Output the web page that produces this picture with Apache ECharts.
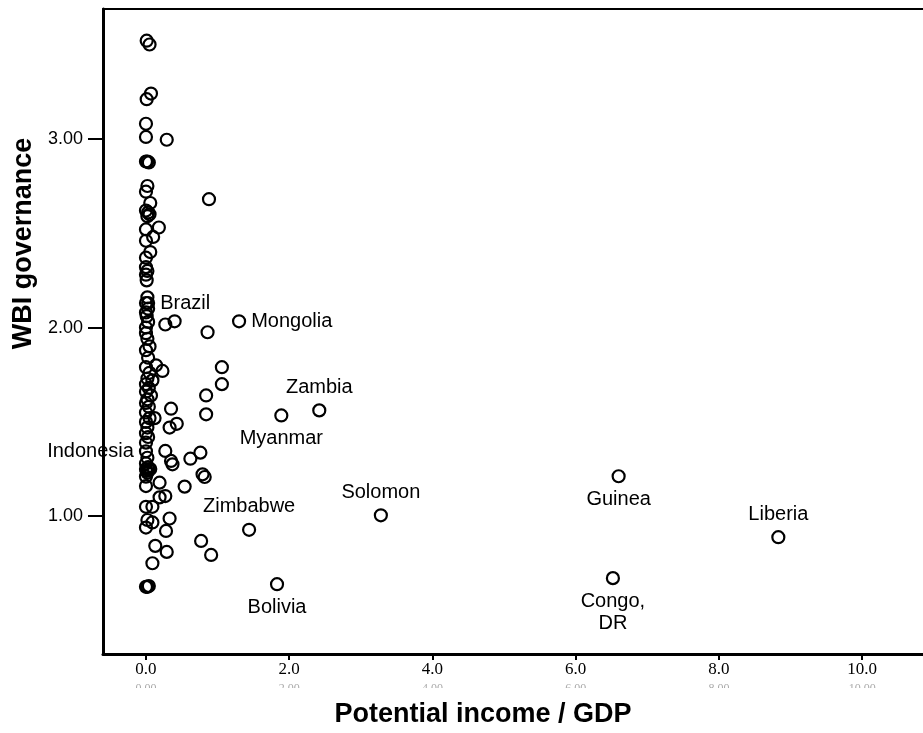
<!DOCTYPE html>
<html>
<head>
<meta charset="utf-8">
<script src="https://cdn.jsdelivr.net/npm/echarts@6/dist/echarts.min.js"></script>
<style>
  html, body { margin: 0; padding: 0; background: #fff; }
  #chart { width: 923px; height: 733px; }
</style>
</head>
<body>
<div id="chart"></div>
<script>
// Unlabelled countries: potential income as share of GDP, and WBI governance score
const incomeRatio = [
  0.01, 0.05, 0.07, 0.01, 0.00, 0.00, 0.29,
  0.00, 0.02, 0.04, 0.02, 0.00, 0.06, 0.00, 0.03, 0.05, 0.02,
  0.88, 0.18, 0.00, 0.10, 0.00, 0.06, 0.00, 0.00, 0.02, 0.00, 0.01,
  0.02, 0.00, 0.03, 0.00, 0.01, 0.03, 0.00,
  0.27, 0.40, 0.86,
  0.00, 0.02, 0.05, 0.00, 0.03, 0.14, 0.23, 0.00, 0.05, 0.02, 0.09, 0.00, 0.04, 0.00, 0.07, 0.02, 0.00, 0.04,
  1.06, 1.06, 0.84, 0.84,
  0.35, 0.12, 0.33, 0.43,
  0.00, 0.05, 0.00, 0.02, 0.00, 0.03, 0.00,
  0.27, 0.35, 0.37, 0.62, 0.76, 0.79, 0.82, 0.54, 0.19,
  0.02, 0.00, 0.03, 0.00, 0.01, 0.04, 0.06, 0.02, 0.00,
  0.00, 0.19, 0.27, 0.00, 0.09, 0.33, 0.02, 0.09, 0.00, 0.28,
  0.77, 0.91, 0.13, 0.29, 0.09, 0.00, 0.02, 0.04
];
const governance = [
  3.52, 3.50, 3.24, 3.21, 3.08, 3.01, 2.995,
  2.88, 2.88, 2.875, 2.75, 2.72, 2.66, 2.62, 2.61, 2.60, 2.59,
  2.68, 2.53, 2.52, 2.48, 2.46, 2.40, 2.37, 2.32, 2.30, 2.28, 2.25,
  2.16, 2.13, 2.10, 2.08, 2.06, 2.03, 2.00,
  2.016, 2.033, 1.975,
  1.97, 1.94, 1.90, 1.88, 1.84, 1.80, 1.77, 1.79, 1.76, 1.73, 1.72, 1.70, 1.68, 1.66, 1.64, 1.62, 1.60, 1.58,
  1.79, 1.70, 1.64, 1.54,
  1.57, 1.52, 1.47, 1.49,
  1.55, 1.52, 1.50, 1.47, 1.44, 1.42, 1.39,
  1.346, 1.293, 1.275, 1.305, 1.337, 1.222, 1.208, 1.157, 1.178,
  1.31, 1.28, 1.26, 1.25, 1.24, 1.245, 1.25, 1.23, 1.21,
  1.16, 1.10, 1.107, 1.05, 1.05, 0.988, 0.98, 0.967, 0.94, 0.922,
  0.869, 0.795, 0.843, 0.811, 0.751, 0.626, 0.626, 0.63
];

// Named countries
const countryNames = ['Brazil', 'Indonesia', 'Mongolia', 'Zambia', 'Myanmar', 'Zimbabwe',
  'Solomon', 'Guinea', 'Liberia', 'Bolivia', 'Congo,\nDR'];
const countryIncome = [0.03, 0.00, 1.30, 2.42, 1.89, 1.44, 3.28, 6.60, 8.83, 1.83, 6.52];
const countryGov = [2.13, 1.344, 2.033, 1.561, 1.534, 0.928, 1.005, 1.212, 0.889, 0.640, 0.672];

// Axis ticks
const xTicks = [0, 2, 4, 6, 8, 10];
const yTicks = [1, 2, 3];

// Label placement for each named country
const labelPlacement = {
  'Brazil':     { position: 'right',  offset: [0, 0] },
  'Indonesia':  { position: 'left',   offset: [11, 0] },
  'Mongolia':   { position: 'right',  offset: [7, 10] },
  'Zambia':     { position: 'top',    offset: [18, 0] },
  'Myanmar':    { position: 'bottom', offset: [2, -5] },
  'Zimbabwe':   { position: 'top',    offset: [16, -3] },
  'Solomon':    { position: 'top',    offset: [4, -4] },
  'Guinea':     { position: 'bottom', offset: [0, 0] },
  'Liberia':    { position: 'top',    offset: [4, -10] },
  'Bolivia':    { position: 'bottom', offset: [13, -3] },
  'Congo,\nDR': { position: 'bottom', offset: [1, -2] }
};

const plainPoints = incomeRatio.map((x, i) => [x, governance[i]]);
const namedPoints = countryNames.map((n, i) => ({
  name: n,
  value: [countryIncome[i], countryGov[i]],
  label: labelPlacement[n]
}));

const markerStyle = {
  color: 'rgba(0,0,0,0)',
  borderColor: '#000',
  borderWidth: 2.2,
  opacity: 1
};

const chart = echarts.init(document.getElementById('chart'), null, { renderer: 'canvas' });

const xMin = -0.60, xMax = 10.85;

chart.setOption({
  animation: false,
  backgroundColor: '#fff',
  grid: { left: 103, top: 9, right: 0, bottom: 78 },
  xAxis: [
    {
      type: 'value', min: xMin, max: xMax,
      name: 'Potential income / GDP',
      nameLocation: 'middle', nameGap: 47,
      nameTextStyle: {
        fontFamily: 'Liberation Sans, Arial', fontWeight: 'bold', fontSize: 27, color: '#000',
        padding: [0, 60, 0, 0]
      },
      axisLine: { show: true, onZero: false, lineStyle: { color: '#000', width: 3 } },
      axisTick: { show: true, customValues: xTicks, length: 6, lineStyle: { color: '#000', width: 2 } },
      axisLabel: {
        customValues: xTicks, margin: 7,
        formatter: v => v.toFixed(1),
        fontFamily: 'Liberation Serif, Times New Roman', fontSize: 17, color: '#000'
      },
      splitLine: { show: false }
    },
    {
      // faint secondary tick labels below the main ones
      type: 'value', min: xMin, max: xMax, position: 'bottom', offset: 21,
      axisLine: { show: false }, axisTick: { show: false },
      axisLabel: {
        customValues: xTicks,
        formatter: v => v.toFixed(2),
        fontFamily: 'Liberation Serif, Times New Roman', fontSize: 12, color: '#aaaaaa'
      },
      splitLine: { show: false }
    },
    {
      // top frame line
      type: 'value', min: xMin, max: xMax, position: 'top',
      axisLine: { show: true, onZero: false, lineStyle: { color: '#000', width: 2 } },
      axisTick: { show: false }, axisLabel: { show: false }, splitLine: { show: false }
    }
  ],
  yAxis: {
    type: 'value', min: 0.27, max: 3.688,
    name: 'WBI governance',
    nameLocation: 'middle', nameGap: 57, nameRotate: 90,
    nameTextStyle: {
      fontFamily: 'Liberation Sans, Arial', fontWeight: 'bold', fontSize: 27, color: '#000',
      padding: [0, 0, 0, 176]
    },
    axisLine: { show: true, onZero: false, lineStyle: { color: '#000', width: 3 } },
    axisTick: { show: true, customValues: yTicks, length: 15, lineStyle: { color: '#000', width: 2 } },
    axisLabel: {
      customValues: yTicks, margin: 20,
      formatter: v => v.toFixed(2),
      fontFamily: 'Liberation Sans, Arial', fontSize: 18, color: '#000'
    },
    splitLine: { show: false }
  },
  series: [
    {
      type: 'scatter', symbol: 'circle', symbolSize: 12,
      data: plainPoints, itemStyle: markerStyle, z: 3
    },
    {
      type: 'scatter', symbol: 'circle', symbolSize: 12,
      data: namedPoints, itemStyle: markerStyle, z: 3,
      label: {
        show: true, formatter: p => p.name,
        fontFamily: 'Liberation Sans, Arial', fontSize: 20, color: '#000',
        lineHeight: 22, textBorderWidth: 0
      },
      labelLayout: { hideOverlap: false }
    }
  ],
  graphic: [
    // the lower half of the faint secondary tick labels is cut away
    { type: 'rect', shape: { x: 100, y: 688, width: 823, height: 12 }, style: { fill: '#fff' }, z: 100 }
  ]
});
</script>
</body>
</html>
